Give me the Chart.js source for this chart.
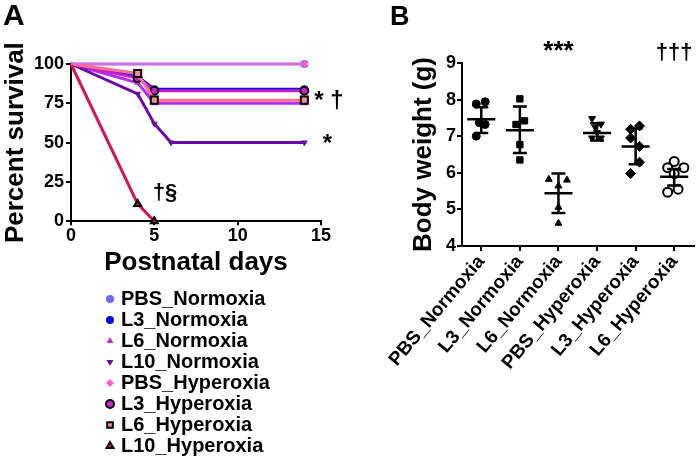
<!DOCTYPE html>
<html>
<head>
<meta charset="utf-8">
<script src="https://cdn.jsdelivr.net/npm/chart.js@4.4.0/dist/chart.umd.min.js"></script>
<style>
  body { margin: 0; background: #fff; }
  #wrap { position: relative; width: 700px; height: 459px; }
  .panel { position: absolute; top: 0; }
  #panelA { left: 0; }
  #panelB { left: 360px; }
</style>
</head>
<body>
<div id="wrap">
  <div class="panel" id="panelA"><canvas id="survivalChart" width="355" height="459"></canvas></div>
  <div class="panel" id="panelB"><canvas id="weightChart" width="340" height="459"></canvas></div>
</div>
<script>
// --- Panel A: percent survival by postnatal day ---
const days = [0, 4, 5, 6, 14];
const pbsNormoxia = [100, null, null, null, 100];
const l3Normoxia = [100, 92, 84, null, 84];
const l6Normoxia = [100, 88, 75, null, 75];
const l10Normoxia = [100, 81, 62, 50, 50];
const pbsHyperoxia = [100, null, null, null, 100];
const l3Hyperoxia = [100, 91, 83, null, 83];
const l6Hyperoxia = [100, 94, 77, null, 77];
const l10Hyperoxia = [100, 11, 0, null, null];
const survivalTicks = [0, 25, 50, 75, 100];

// --- Panel B: body weight (g) ---
const groups = ["PBS_Normoxia", "L3_Normoxia", "L6_Normoxia", "PBS_Hyperoxia", "L3_Hyperoxia", "L6_Hyperoxia"];
const wPbsNormoxia = [7.88, 7.94, 7.37, 7.32, 7.0];
const wL3Normoxia = [8.02, 7.42, 7.32, 6.77, 6.35];
const wL6Normoxia = [5.82, 5.8, 5.64, 5.06, 4.62];
const wPbsHyperoxia = [7.48, 7.33, 7.25, 7.1, 6.95, 6.95];
const wL3Hyperoxia = [7.28, 7.19, 6.95, 6.72, 6.29, 5.98];
const wL6Hyperoxia = [6.31, 6.14, 6.14, 5.98, 5.47, 5.55];
const groupMean = [7.46, 7.16, 5.44, 7.09, 6.72, 5.89];
const groupSdHigh = [7.79, 7.81, 5.98, 7.35, 7.21, 6.1];
const groupSdLow = [7.09, 6.54, 4.9, 6.88, 6.23, 5.65];

// horizontal scatter of the dots inside each column (in category units)
const jitter = [
  [-0.13, 0.1, -0.05, 0.1, -0.13],
  [0, 0.12, -0.1, 0, 0],
  [-0.25, 0.22, 0, 0, 0],
  [-0.13, 0.1, -0.05, 0, -0.13, 0.1],
  [0.1, -0.13, -0.13, 0.1, 0.1, -0.13],
  [0, -0.17, 0.25, 0, -0.17, 0.1],
];

const FONT = '"Liberation Sans", Arial, sans-serif';

function toPoints(values) {
  return days
    .map((d, i) => ({ x: d, y: values[i] }))
    .filter((p) => p.y !== null);
}

// --- Survival series ---
const survivalSeries = [
  { label: "PBS_Normoxia", data: pbsNormoxia, color: "#6b6bff", fill: "#6b6bff", style: "circle", rot: 0, border: 0, order: 6 },
  { label: "L3_Normoxia", data: l3Normoxia, color: "#0a0aee", fill: "#0a0aee", style: "circle", rot: 0, border: 0, order: 4 },
  { label: "L6_Normoxia", data: l6Normoxia, color: "#b52cf0", fill: "#b52cf0", style: "triangle", rot: 0, border: 0, order: 7 },
  { label: "L10_Normoxia", data: l10Normoxia, color: "#6a0aa8", fill: "#6a0aa8", style: "triangle", rot: 180, border: 0, order: 5 },
  { label: "PBS_Hyperoxia", data: pbsHyperoxia, color: "#f060d8", fill: "#ff5fd0", style: "rectRot", rot: 0, border: 0, order: 0 },
  { label: "L3_Hyperoxia", data: l3Hyperoxia, color: "#c81ec8", fill: "#cc22cc", style: "circle", rot: 0, border: 2, order: 3 },
  { label: "L6_Hyperoxia", data: l6Hyperoxia, color: "#ff7090", fill: "#ff8a9a", style: "rect", rot: 0, border: 2, order: 2 },
  { label: "L10_Hyperoxia", data: l10Hyperoxia, color: "#d2145a", fill: "#cc1155", style: "triangle", rot: 0, border: 2, order: 1 },
];

// --- Legend drawn in a single column below panel A ---
const survivalLegend = {
  id: "survivalLegend",
  afterDraw(chart) {
    const { ctx } = chart;
    ctx.save();
    ctx.font = "bold 20px " + FONT;
    ctx.textBaseline = "middle";
    ctx.textAlign = "left";
    survivalSeries.forEach((s, i) => {
      const y = 299 + i * 21;
      ctx.fillStyle = s.fill;
      ctx.strokeStyle = "#000";
      ctx.lineWidth = s.border;
      Chart.helpers.drawPoint(ctx, { pointStyle: s.style, rotation: s.rot, radius: 4, borderWidth: s.border }, 110, y);
      ctx.fillStyle = "#000";
      ctx.fillText(s.label, 121, y);
    });
    ctx.restore();
  },
};

// --- Text marks (significance symbols) placed in data units ---
function drawMarks(chart, marks) {
  const { ctx, scales } = chart;
  ctx.save();
  ctx.fillStyle = "#000";
  ctx.textBaseline = "middle";
  marks.forEach((m) => {
    ctx.font = "bold " + m.size + "px " + FONT;
    ctx.textAlign = m.align;
    ctx.fillText(m.text, scales.x.getPixelForValue(m.x), scales.y.getPixelForValue(m.y));
  });
  ctx.restore();
}

const survivalMarks = {
  id: "survivalMarks",
  afterDraw(chart) {
    drawMarks(chart, [
      { text: "* †", x: 14.6, y: 76, size: 24, align: "left" },
      { text: "*", x: 15.1, y: 49, size: 24, align: "left" },
      { text: "†§", x: 4.9, y: 18, size: 22, align: "left" },
    ]);
    const { ctx } = chart;
    ctx.save();
    ctx.fillStyle = "#000";
    ctx.font = "bold 30px " + FONT;
    ctx.textBaseline = "top";
    ctx.fillText("A", 3, 2);
    ctx.restore();
  },
};

const axisTitleFont = { family: FONT, size: 26, weight: "bold" };
const tickFont = { family: FONT, size: 18, weight: "bold" };

new Chart(document.getElementById("survivalChart"), {
  type: "line",
  data: {
    datasets: survivalSeries.map((s) => ({
      label: s.label,
      data: toPoints(s.data),
      borderColor: s.color,
      backgroundColor: s.fill,
      borderWidth: s.label === "PBS_Hyperoxia" ? 2 : 3,
      pointStyle: s.style,
      pointRotation: s.rot,
      pointBackgroundColor: s.fill,
      pointBorderColor: s.border ? "#000" : s.fill,
      pointBorderWidth: s.border,
      pointRadius: (c) => (c.dataIndex === 0 ? 0 : s.style === "rect" ? 5 : 4),
      tension: 0,
      spanGaps: true,
      clip: false,
      order: s.order,
    })),
  },
  options: {
    responsive: false,
    animation: false,
    layout: { padding: { top: 64, right: 34, bottom: 181, left: 0 } },
    plugins: { legend: { display: false }, tooltip: { enabled: false } },
    scales: {
      x: {
        type: "linear",
        min: 0,
        max: 15,
        ticks: { stepSize: 5, color: "#000", font: tickFont, padding: 0 },
        grid: { drawOnChartArea: false, color: "#000", lineWidth: 2, tickLength: 4 },
        border: { color: "#000", width: 2 },
        title: { display: true, text: "Postnatal days", color: "#000", font: axisTitleFont, padding: { top: 0, bottom: 0 } },
      },
      y: {
        min: 0,
        max: 100,
        afterBuildTicks: (scale) => {
          scale.ticks = survivalTicks.map((v) => ({ value: v }));
        },
        afterFit: (scale) => {
          scale.width = 71;
        },
        ticks: { color: "#000", font: tickFont, padding: 2 },
        grid: { drawOnChartArea: false, color: "#000", lineWidth: 2, tickLength: 5 },
        border: { color: "#000", width: 2 },
        title: { display: true, text: "Percent survival", color: "#000", font: axisTitleFont, padding: 0 },
      },
    },
  },
  plugins: [survivalLegend, survivalMarks],
});

// --- Panel B: scatter with mean and SD ---
const weightGroups = [wPbsNormoxia, wL3Normoxia, wL6Normoxia, wPbsHyperoxia, wL3Hyperoxia, wL6Hyperoxia];
const weightStyles = [
  { style: "circle", rot: 0, fill: "#000", r: 4 },
  { style: "rect", rot: 0, fill: "#000", r: 4.5 },
  { style: "triangle", rot: 0, fill: "#000", r: 4 },
  { style: "triangle", rot: 180, fill: "#000", r: 4 },
  { style: "rectRot", rot: 0, fill: "#000", r: 5 },
  { style: "circle", rot: 0, fill: "#fff", r: 4.5 },
];

const meanSdBars = {
  id: "meanSdBars",
  afterDatasetsDraw(chart) {
    const { ctx, scales } = chart;
    ctx.save();
    ctx.strokeStyle = "#000";
    ctx.lineWidth = 2.5;
    groups.forEach((g, i) => {
      const px = scales.x.getPixelForValue(i);
      const yMean = scales.y.getPixelForValue(groupMean[i]);
      const yHi = scales.y.getPixelForValue(groupSdHigh[i]);
      const yLo = scales.y.getPixelForValue(groupSdLow[i]);
      ctx.beginPath();
      ctx.moveTo(px - 14, yMean);
      ctx.lineTo(px + 14, yMean);
      ctx.moveTo(px, yHi);
      ctx.lineTo(px, yLo);
      ctx.moveTo(px - 7, yHi);
      ctx.lineTo(px + 7, yHi);
      ctx.moveTo(px - 7, yLo);
      ctx.lineTo(px + 7, yLo);
      ctx.stroke();
    });
    ctx.restore();
  },
  afterDraw(chart) {
    drawMarks(chart, [
      { text: "***", x: 2, y: 9.3, size: 26, align: "center" },
      { text: "†††", x: 5, y: 9.28, size: 22, align: "center" },
    ]);
    const { ctx } = chart;
    ctx.save();
    ctx.fillStyle = "#000";
    ctx.font = "bold 27px " + FONT;
    ctx.textBaseline = "top";
    ctx.fillText("B", 30, 4);
    ctx.restore();
  },
};

new Chart(document.getElementById("weightChart"), {
  type: "scatter",
  data: {
    datasets: weightGroups.map((vals, i) => ({
      label: groups[i],
      data: vals.map((v, j) => ({ x: i + jitter[i][j], y: v })),
      pointStyle: weightStyles[i].style,
      pointRotation: weightStyles[i].rot,
      pointRadius: weightStyles[i].r,
      pointBackgroundColor: weightStyles[i].fill,
      pointBorderColor: "#000",
      pointBorderWidth: weightStyles[i].fill === "#fff" ? 2 : 1,
      clip: false,
    })),
  },
  options: {
    responsive: false,
    animation: false,
    layout: { padding: { top: 63, right: 3, bottom: 85, left: 48 } },
    plugins: { legend: { display: false }, tooltip: { enabled: false } },
    scales: {
      x: {
        type: "linear",
        min: -0.5,
        max: 5.5,
        afterBuildTicks: (scale) => {
          scale.ticks = groups.map((g, i) => ({ value: i }));
        },
        ticks: {
          callback: (v) => groups[v],
          color: "#000",
          font: { family: FONT, size: 19, weight: "bold" },
          minRotation: 50,
          maxRotation: 50,
          autoSkip: false,
          padding: 0,
        },
        grid: { drawOnChartArea: false, color: "#000", lineWidth: 2, tickLength: 5 },
        border: { color: "#000", width: 2 },
      },
      y: {
        min: 4,
        max: 9,
        afterFit: (scale) => {
          scale.width = 54;
        },
        ticks: { stepSize: 1, color: "#000", font: tickFont, padding: 1 },
        grid: { drawOnChartArea: false, color: "#000", lineWidth: 2, tickLength: 5 },
        border: { color: "#000", width: 2 },
        title: { display: true, text: "Body weight (g)", color: "#000", font: axisTitleFont, padding: 0 },
      },
    },
  },
  plugins: [meanSdBars],
});
</script>
</body>
</html>
